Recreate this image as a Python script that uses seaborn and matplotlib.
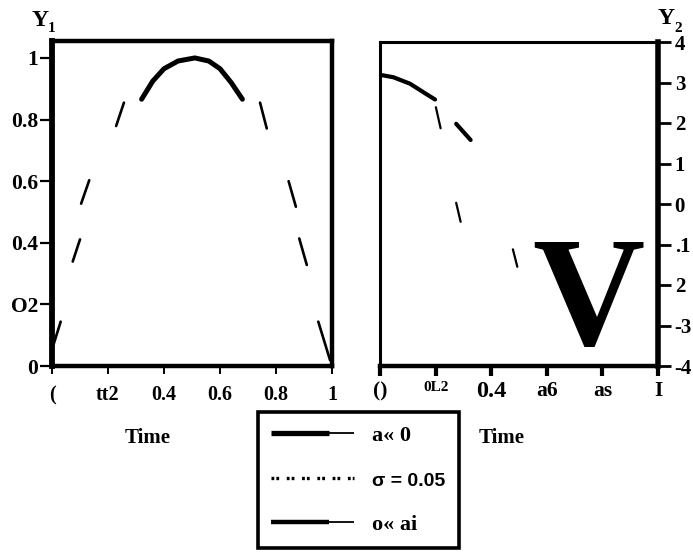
import numpy as np
import pandas as pd
import matplotlib
matplotlib.use('Agg')
import matplotlib.pyplot as plt
import seaborn as sns
from matplotlib.lines import Line2D
from matplotlib.legend_handler import HandlerBase

# ---------------- data ----------------
y1_cap_x = [0.32, 0.36, 0.40, 0.45, 0.51, 0.56, 0.60, 0.64, 0.68]
y1_cap_y = [0.866, 0.925, 0.965, 0.99, 1.0, 0.99, 0.965, 0.92, 0.866]
y1_dash_id = [1, 1, 2, 2, 3, 3, 4, 4, 5, 5, 6, 6, 7, 7, 8, 8]
y1_dash_x = [0.005, 0.031, 0.074, 0.100, 0.104, 0.133, 0.229, 0.257,
             0.743, 0.767, 0.845, 0.871, 0.883, 0.910, 0.951, 0.993]
y1_dash_y = [0.068, 0.144, 0.339, 0.411, 0.527, 0.603, 0.779, 0.855,
             0.855, 0.771, 0.600, 0.517, 0.414, 0.328, 0.144, 0.019]

y2_solid_x = [0.0, 0.048, 0.108, 0.156, 0.198]
y2_solid_y = [3.19, 3.13, 2.97, 2.76, 2.58]
y2_thick_x = [0.274, 0.326]
y2_thick_y = [1.98, 1.58]
y2_dash_id = [1, 1, 2, 2, 3, 3]
y2_dash_x = [0.201, 0.218, 0.274, 0.290, 0.478, 0.494]
y2_dash_y = [2.39, 1.87, 0.03, -0.44, -1.12, -1.55]

x_ticks = [0, 0.2, 0.4, 0.6, 0.8, 1.0]
x1_ticklabels = ['(', 'tt2', '0.4', '0.6', '0.8', '1']
x2_ticklabels = ['()', '0L2', '0.4', 'a6', 'as', 'I']
y1_ticks = [0, 0.2, 0.4, 0.6, 0.8, 1.0]
y1_ticklabels = ['0', 'O2', '0.4', '0.6', '0.8', '1']
y2_ticks = [-4, -3, -2, -1, 0, 1, 2, 3, 4]
y2_ticklabels = ['-4', '-3', '2', '.1', '0', '1', '2', '3', '4']
legend_labels = ['a\u00ab 0', '\u03c3 = 0.05', 'o\u00ab ai']
x_label = 'Time'

# ---------------- style ----------------
sns.set_style('white')
plt.rcParams['font.family'] = ['Liberation Serif', 'DejaVu Serif']
plt.rcParams['font.weight'] = 'bold'
plt.rcParams['lines.scale_dashes'] = False
for k in ['text.color', 'axes.labelcolor', 'xtick.color', 'ytick.color',
          'axes.edgecolor']:
    plt.rcParams[k] = 'black'


class SplitHandler(HandlerBase):
    """Legend sample: thick line for the first part, thin line after."""

    def __init__(self, lw_thick, lw_thin=1.3, frac=0.69):
        super().__init__()
        self.lw_thick, self.lw_thin, self.frac = lw_thick, lw_thin, frac

    def create_artists(self, legend, orig_handle, xdescent, ydescent,
                       width, height, fontsize, trans):
        y = height / 2 - ydescent
        x0 = -xdescent
        xm = x0 + self.frac * width
        l1 = Line2D([x0, xm], [y, y], color='black', lw=self.lw_thick,
                    solid_capstyle='butt', transform=trans)
        l2 = Line2D([xm, x0 + width], [y, y], color='black', lw=self.lw_thin,
                    solid_capstyle='butt', transform=trans)
        return [l1, l2]


W, H = 693, 555
fig = plt.figure(figsize=(W / 100, H / 100), dpi=100)
ax1 = fig.add_axes([52 / W, 1 - 366 / H, 280 / W, 325 / H])
ax2 = fig.add_axes([380 / W, 1 - 366 / H, 278 / W, 324 / H])

# ---------------- left panel ----------------
sns.lineplot(x=y1_cap_x, y=y1_cap_y, ax=ax1, color='black', lw=3.6,
             estimator=None, sort=False)
df1 = pd.DataFrame({'x': y1_dash_x, 'y': y1_dash_y, 'seg': y1_dash_id})
sns.lineplot(data=df1, x='x', y='y', units='seg', estimator=None, ax=ax1,
             color='black', lw=1.9, sort=False)
ax1.set_xlim(0, 1)
ax1.set_ylim(0, 1.055)
ax1.set_xticks(x_ticks)
ax1.set_xticklabels(x1_ticklabels)
ax1.set_yticks(y1_ticks)
ax1.set_yticklabels(y1_ticklabels)
ax1.set_xlabel('')
ax1.set_ylabel('')
for s in ax1.spines.values():
    s.set_linewidth(3.2)
ax1.spines['left'].set_linewidth(4.2)
ax1.tick_params(axis='y', direction='out', length=9, width=1.6, pad=1,
                labelsize=15.5, left=True)
ax1.tick_params(axis='x', direction='out', length=6, width=1.4, pad=8,
                labelsize=14.5, bottom=True)

# ---------------- right panel ----------------
sns.lineplot(x=y2_solid_x, y=y2_solid_y, ax=ax2, color='black', lw=3.0,
             estimator=None, sort=False)
sns.lineplot(x=y2_thick_x, y=y2_thick_y, ax=ax2, color='black', lw=3.0,
             estimator=None, sort=False)
df2 = pd.DataFrame({'x': y2_dash_x, 'y': y2_dash_y, 'seg': y2_dash_id})
sns.lineplot(data=df2, x='x', y='y', units='seg', estimator=None, ax=ax2,
             color='black', lw=1.6, sort=False)
ax2.set_xlim(0, 1)
ax2.set_ylim(-4, 4)
ax2.set_xticks(x_ticks)
ax2.set_xticklabels(x2_ticklabels)
ax2.yaxis.tick_right()
ax2.set_yticks(y2_ticks)
ax2.set_yticklabels(y2_ticklabels)
ax2.set_xlabel('')
ax2.set_ylabel('')
ax2.spines['top'].set_linewidth(2.2)
ax2.spines['left'].set_linewidth(2.2)
ax2.spines['right'].set_linewidth(4.0)
ax2.spines['bottom'].set_linewidth(3.2)
ax2.tick_params(axis='y', direction='out', length=9, width=2.0, pad=3,
                labelsize=15, right=True, left=False)
ax2.tick_params(axis='x', direction='out', length=7, width=3.0, pad=4,
                labelsize=15.5, bottom=True)
xl = ax2.get_xticklabels()
xl[1].set_fontsize(11)
xl[2].set_fontsize(17.5)

# ---------------- axis titles / labels ----------------
fig.text(40 / W, 1 - 21 / H, 'Y', fontsize=17, ha='center', va='center')
fig.text(52 / W, 1 - 29 / H, '1', fontsize=11, ha='center', va='center')
fig.text(666 / W, 1 - 19 / H, 'Y', fontsize=17, ha='center', va='center')
fig.text(678 / W, 1 - 29 / H, '2', fontsize=11, ha='center', va='center')
fig.text(148 / W, 1 - 438 / H, x_label, fontsize=15, ha='center', va='center')
fig.text(502 / W, 1 - 438 / H, x_label, fontsize=15, ha='center', va='center')

# big letter overlay
fig.text(588 / W, 1 - 345 / H, 'V', fontsize=112, fontweight='bold',
         color='black', ha='center', va='baseline')

# ---------------- legend ----------------
h1 = Line2D([], [], color='black', lw=3.8)
h2 = Line2D([], [], color='black', lw=2.4, ls=(0, (2, 1.5, 2, 5.5)))
h3 = Line2D([], [], color='black', lw=3.2)
leg = fig.legend([h1, h2, h3], legend_labels, loc='upper left',
                 bbox_to_anchor=(258 / W, 1 - 412 / H),
                 bbox_transform=fig.transFigure,
                 handler_map={h1: SplitHandler(3.8), h3: SplitHandler(3.2)},
                 frameon=True, fancybox=False, edgecolor='black',
                 framealpha=1.0,
                 borderaxespad=0, borderpad=0.6, labelspacing=1.1,
                 handlelength=3.74, handletextpad=0.8,
                 prop={'family': 'Liberation Serif', 'weight': 'bold', 'size': 16})
leg.get_frame().set_linewidth(2.6)
t2 = leg.get_texts()[1]
t2.set_family('Liberation Sans')
t2.set_fontsize(14)

fig.savefig('out.png', dpi=100)
